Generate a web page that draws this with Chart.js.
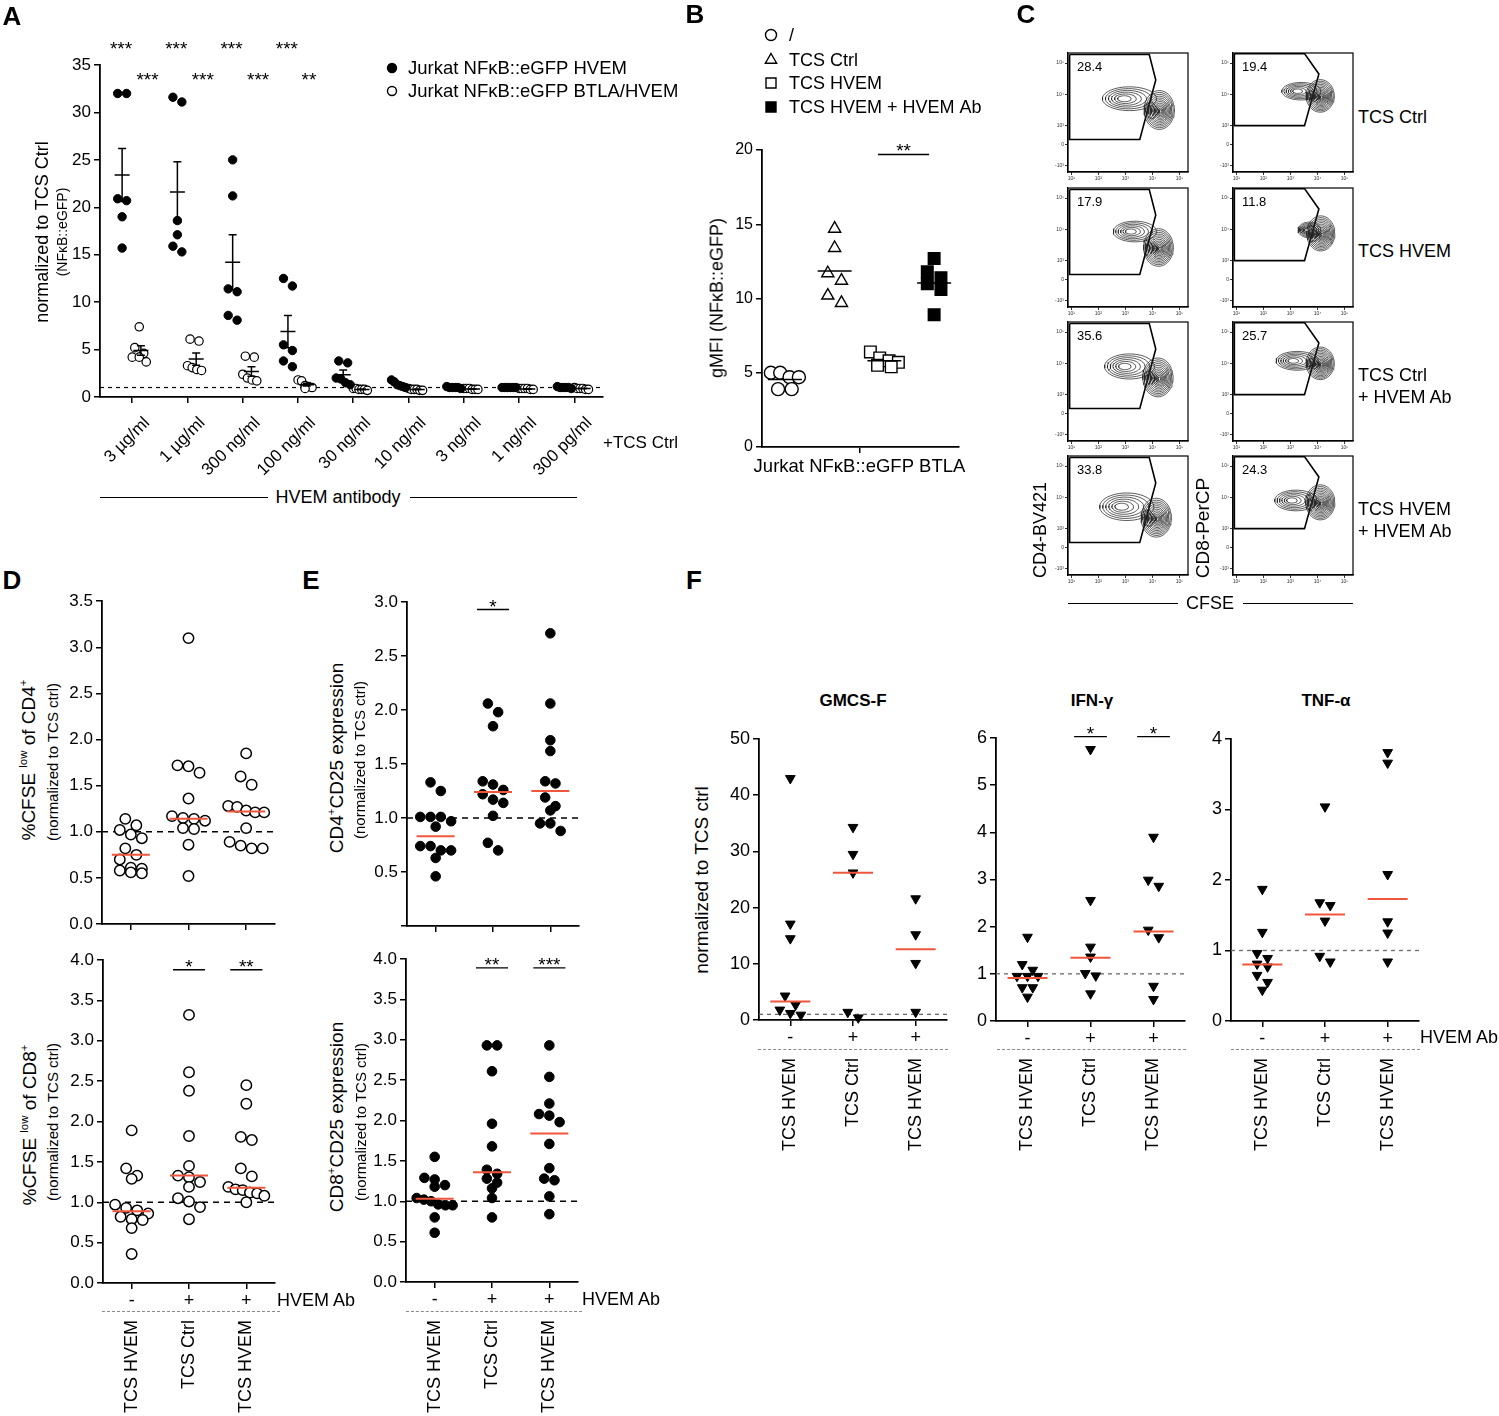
<!DOCTYPE html>
<html lang="en">
<head>
<meta charset="UTF-8">
<title>HVEM / BTLA figure</title>
<script src="https://cdn.jsdelivr.net/npm/chart.js"></script>
<style>
  body { margin: 0; background: #fff; }
  #fig { position: relative; width: 1499px; height: 1416px; overflow: hidden; background: #fff;
         font-family: "Liberation Sans", Arial, Helvetica, sans-serif; color: #000; }
  #fig canvas { position: absolute; }
  .t { position: absolute; white-space: nowrap; line-height: 1.15; }
  .t sup { font-size: 0.6em; line-height: 0; vertical-align: 0.75em; }
  .rule { position: absolute; height: 0; }
</style>
</head>
<body>
<div id="fig"></div>
<script>
// ---------- A: NFkB::eGFP reporter, HVEM antibody titration ----------
const doseLabels = ['3 µg/ml', '1 µg/ml', '300 ng/ml', '100 ng/ml', '30 ng/ml', '10 ng/ml', '3 ng/ml', '1 ng/ml', '300 pg/ml'];
const hvemReporter = [
  [32.0, 32.0, 20.9, 20.7, 19.0, 15.7],
  [31.6, 31.1, 18.6, 17.1, 15.9, 15.3],
  [25.0, 21.2, 11.4, 11.1, 8.6, 8.1],
  [12.5, 11.7, 5.5, 4.9, 3.8, 3.2],
  [3.8, 3.6, 2.0, 1.9, 1.5, 1.3],
  [1.8, 1.6, 1.3, 1.2, 1.1, 1.0],
  [1.1, 1.0, 1.0, 1.0, 1.0, 0.9],
  [1.0, 1.0, 1.0, 1.0, 1.0, 1.0],
  [1.1, 1.0, 1.0, 1.0, 1.0, 0.9]
];
const hvemMean = [23.4, 21.6, 14.2, 6.9, 2.35, 1.3, 1.0, 1.0, 1.0];
const hvemSem = [2.8, 3.2, 2.9, 1.7, 0.5, 0.12, 0.03, 0.02, 0.03];
const btlaReporter = [
  [7.4, 5.2, 4.6, 4.2, 4.2, 3.7],
  [6.1, 5.9, 3.3, 3.1, 2.9, 2.8],
  [4.3, 4.2, 2.4, 2.0, 1.8, 1.7],
  [1.8, 1.7, 1.2, 1.1, 1.0, 0.9],
  [0.9, 0.9, 0.8, 0.8, 0.8, 0.7],
  [0.9, 0.8, 0.8, 0.8, 0.7, 0.7],
  [0.9, 0.9, 0.9, 0.8, 0.8, 0.8],
  [0.9, 0.9, 0.9, 0.9, 0.8, 0.8],
  [1.0, 0.9, 0.9, 0.9, 0.8, 0.8]
];
const btlaMean = [4.9, 4.0, 2.7, 1.3, 0.8, 0.8, 0.85, 0.85, 0.9];
const btlaSem = [0.5, 0.65, 0.5, 0.15, 0.04, 0.04, 0.03, 0.03, 0.03];
const hvemStars = ['***', '***', '***', '***'];
const btlaStars = ['***', '***', '***', '**'];

// ---------- B: gMFI of Jurkat NFkB::eGFP BTLA ----------
const gmfiGroups = ['/', 'TCS Ctrl', 'TCS HVEM', 'TCS HVEM + HVEM Ab'];
const gmfiValues = [
  [5.0, 5.0, 4.7, 4.7, 3.9, 3.9],
  [14.7, 13.4, 11.7, 11.2, 10.2, 9.7],
  [6.4, 6.0, 5.8, 5.7, 5.5, 5.4],
  [12.7, 11.8, 11.4, 11.0, 10.6, 8.9]
];
const gmfiMean = [4.55, 11.85, 5.8, 11.05];

// ---------- C: CFSE flow plots ----------
const flowRows = ['TCS Ctrl', 'TCS HVEM', 'TCS Ctrl', 'TCS HVEM'];
const cd4Gated = ['28.4', '17.9', '35.6', '33.8'];
const cd8Gated = ['19.4', '11.8', '25.7', '24.3'];
// contour blobs: main peak cx, cy, rx, ry then tail cx, cy, rx, ry (decades)
const cd4Blobs = [
  [4.25, 3.5, 0.56, 0.62, 3.15, 3.86, 1.0, 0.38],
  [4.22, 3.42, 0.55, 0.6, 3.35, 3.93, 0.8, 0.33],
  [4.2, 3.55, 0.56, 0.62, 3.15, 3.9, 0.92, 0.4],
  [4.14, 3.35, 0.56, 0.62, 3.05, 3.7, 1.0, 0.44]
];
const cd8Blobs = [
  [4.1, 3.95, 0.52, 0.52, 3.4, 4.1, 0.72, 0.28],
  [4.12, 3.87, 0.52, 0.56, 3.7, 3.98, 0.42, 0.25],
  [4.1, 4.0, 0.52, 0.52, 3.25, 4.08, 0.78, 0.3],
  [4.1, 3.84, 0.54, 0.56, 3.2, 3.9, 0.78, 0.33]
];
const gateCD4 = [[0.94, 5.27], [3.88, 5.27], [4.12, 4.46], [3.53, 2.56], [0.94, 2.56], [0.94, 5.27]];
const gateCD8 = [[0.93, 5.3], [3.52, 5.3], [4.05, 4.65], [3.52, 3.0], [0.93, 3.0], [0.93, 5.3]];
const cfseTicks = [1, 2, 3, 4, 5];
const cfseTickText = ['10¹', '10²', '10³', '10⁴', '10⁵'];
const markerTicks = [1.73, 2.4, 3, 4, 5];
const markerTickText = ['-10³', '0', '10³', '10⁴', '10⁵'];

// ---------- D-F: primary T cells ----------
const conditionNames = ['TCS HVEM', 'TCS Ctrl', 'TCS HVEM'];
const hvemAbSign = ['-', '+', '+'];
const cd4Prolif = [
  [1.14, 1.07, 1.02, 0.97, 0.93, 0.82, 0.75, 0.70, 0.61, 0.60, 0.58, 0.56, 0.55],
  [3.10, 1.72, 1.71, 1.64, 1.36, 1.17, 1.15, 1.14, 1.12, 1.04, 1.03, 0.86, 0.52],
  [1.85, 1.60, 1.51, 1.28, 1.27, 1.23, 1.21, 1.21, 1.04, 0.89, 0.85, 0.82, 0.82]
];
const cd4ProlifMedian = [0.75, 1.14, 1.22];
const cd8Prolif = [
  [1.89, 1.42, 1.33, 1.29, 0.97, 0.93, 0.90, 0.86, 0.82, 0.79, 0.78, 0.68, 0.36],
  [3.32, 2.61, 2.38, 1.82, 1.45, 1.33, 1.31, 1.25, 1.19, 1.05, 1.01, 0.94, 0.79],
  [2.45, 2.22, 1.81, 1.77, 1.42, 1.32, 1.19, 1.16, 1.15, 1.12, 1.11, 1.08, 1.00]
];
const cd8ProlifMedian = [0.89, 1.33, 1.18];
const cd8ProlifSig = ['', '*', '**'];
const cd4Cd25 = [
  [1.33, 1.25, 1.01, 1.01, 1.01, 0.97, 0.92, 0.74, 0.74, 0.70, 0.70, 0.63, 0.46],
  [2.06, 1.98, 1.85, 1.34, 1.31, 1.26, 1.22, 1.17, 1.14, 1.02, 0.77, 0.70],
  [2.71, 2.06, 1.72, 1.62, 1.34, 1.32, 1.19, 1.11, 1.07, 0.95, 0.95, 0.88]
];
const cd4Cd25Median = [0.83, 1.24, 1.25];
const cd4Cd25Sig = ['', '*', ''];
const cd8Cd25 = [
  [1.55, 1.29, 1.27, 1.20, 1.18, 1.04, 1.02, 1.00, 0.96, 0.95, 0.95, 0.80, 0.61],
  [2.93, 2.93, 2.61, 1.96, 1.68, 1.39, 1.34, 1.28, 1.23, 1.16, 1.04, 0.80],
  [2.93, 2.54, 2.21, 2.08, 2.06, 1.98, 1.71, 1.41, 1.28, 1.26, 1.06, 0.84]
];
const cd8Cd25Median = [1.03, 1.36, 1.84];
const cd8Cd25Sig = ['', '**', '***'];
const gmcsf = [
  [43.0, 17.1, 14.5, 4.3, 2.7, 1.8, 1.2, 0.9],
  [34.3, 29.5, 26.2, 1.4, 0.4],
  [21.6, 15.2, 10.1, 1.4]
];
const gmcsfMedian = [3.3, 26.2, 12.6];
const ifng = [
  [1.78, 1.20, 1.08, 0.95, 0.95, 0.95, 0.71, 0.71, 0.51],
  [5.76, 2.56, 1.57, 1.36, 1.01, 0.96, 0.58],
  [3.90, 2.99, 2.86, 1.93, 1.77, 0.74, 0.46]
];
const ifngMedian = [0.91, 1.34, 1.90];
const ifngSig = ['', '*', '*'];
const tnfa = [
  [1.87, 1.26, 0.96, 0.89, 0.81, 0.77, 0.65, 0.55, 0.44],
  [3.04, 1.68, 1.64, 1.42, 0.92, 0.84],
  [3.81, 3.66, 2.08, 1.41, 1.25, 0.84]
];
const tnfaMedian = [0.80, 1.51, 1.73];

// ---------------------------------------------------------------
const FONT = '"Liberation Sans", Arial, Helvetica, sans-serif';
const RED = '#f0563c';
const fig = document.getElementById('fig');
const decoFor = new Map();

Chart.defaults.font.family = FONT;
Chart.defaults.font.size = 15;
Chart.defaults.color = '#000';
Chart.defaults.animation = false;
Chart.defaults.plugins.legend.display = false;
Chart.defaults.plugins.tooltip.enabled = false;

function drawStar(ctx, s, x, yc, size) {
  ctx.font = size + 'px ' + FONT;
  ctx.fillStyle = '#000';
  ctx.textAlign = 'center';
  ctx.textBaseline = 'alphabetic';
  ctx.fillText(s, x, yc + 0.58 * size);
}

function drawMarker(ctx, m, x, y) {
  ctx.beginPath();
  if (m.style === 'triangle') {
    ctx.moveTo(x, y - m.r);
    ctx.lineTo(x + 0.866 * m.r, y + 0.5 * m.r);
    ctx.lineTo(x - 0.866 * m.r, y + 0.5 * m.r);
    ctx.closePath();
  } else if (m.style === 'rect') {
    ctx.rect(x - m.r, y - m.r, 2 * m.r, 2 * m.r);
  } else {
    ctx.arc(x, y, m.r, 0, 2 * Math.PI);
  }
  ctx.fillStyle = m.fill;
  ctx.fill();
  ctx.lineWidth = 1.4;
  ctx.strokeStyle = '#000';
  ctx.stroke();
}

// extra marks: reference line, mean/median bars, significance, legends
const deco = {
  id: 'deco',
  beforeDatasetsDraw(chart) {
    const o = decoFor.get(chart.canvas);
    if (!o || o.refY == null) return;
    const { ctx, chartArea: a, scales: { y } } = chart;
    const py = y.getPixelForValue(o.refY);
    ctx.save();
    ctx.setLineDash(o.refDash || [5, 4]);
    ctx.lineWidth = o.refWidth || 1.5;
    ctx.strokeStyle = o.refColor || '#000';
    ctx.beginPath();
    ctx.moveTo(a.left, py);
    ctx.lineTo(a.right, py);
    ctx.stroke();
    ctx.restore();
  },
  afterDatasetsDraw(chart) {
    const o = decoFor.get(chart.canvas);
    if (!o) return;
    const { ctx, chartArea: a, scales: { x, y } } = chart;
    const ox = chart.canvas.offsetLeft, oy = chart.canvas.offsetTop;
    ctx.save();
    if (o.frame) {
      ctx.strokeStyle = '#000';
      ctx.lineWidth = 1.2;
      ctx.strokeRect(a.left, a.top, a.right - a.left, a.bottom - a.top);
    }
    (o.bars || []).forEach(b => {
      const px = x.getPixelForValue(b.x), py = y.getPixelForValue(b.y);
      ctx.strokeStyle = b.color || '#000';
      ctx.lineWidth = b.lw || 1.5;
      ctx.beginPath();
      ctx.moveTo(px - b.w / 2, py);
      ctx.lineTo(px + b.w / 2, py);
      if (b.sem) {
        const p1 = y.getPixelForValue(b.y + b.sem), p2 = y.getPixelForValue(b.y - b.sem);
        ctx.moveTo(px, p1); ctx.lineTo(px, p2);
        ctx.moveTo(px - b.cap / 2, p1); ctx.lineTo(px + b.cap / 2, p1);
        ctx.moveTo(px - b.cap / 2, p2); ctx.lineTo(px + b.cap / 2, p2);
      }
      ctx.stroke();
    });
    (o.sig || []).forEach(s => {
      const x1 = x.getPixelForValue(s.x1), x2 = x.getPixelForValue(s.x2), py = y.getPixelForValue(s.y);
      ctx.strokeStyle = '#000';
      ctx.lineWidth = 1.4;
      ctx.beginPath();
      ctx.moveTo(x1, py);
      ctx.lineTo(x2, py);
      ctx.stroke();
      drawStar(ctx, s.text, (x1 + x2) / 2, py - 8, 19);
    });
    (o.stars || []).forEach(s => drawStar(ctx, s.text, x.getPixelForValue(s.x), y.getPixelForValue(s.y), 19));
    (o.legend || []).forEach(l => {
      drawMarker(ctx, l, l.x - ox, l.y - oy);
      ctx.fillStyle = '#000';
      ctx.font = l.size + 'px ' + FONT;
      ctx.textAlign = 'left';
      ctx.textBaseline = 'middle';
      ctx.fillText(l.text, l.x - ox + l.gap, l.y - oy + 1);
    });
    ctx.restore();
  }
};
Chart.register(deco);

function canvasAt(box) {
  const cv = document.createElement('canvas');
  cv.width = box[2];
  cv.height = box[3];
  cv.style.left = box[0] + 'px';
  cv.style.top = box[1] + 'px';
  cv.style.width = box[2] + 'px';
  cv.style.height = box[3] + 'px';
  fig.appendChild(cv);
  return cv;
}

function baseOptions(box, area, scales) {
  return {
    responsive: false,
    animation: false,
    layout: { padding: { top: area[1] - box[1], right: box[0] + box[2] - area[2], left: 0, bottom: 0 } },
    scales
  };
}

function valAxis(min, max, step, fmt, width, size) {
  return {
    type: 'linear', min, max,
    border: { display: true, color: '#000', width: 1.8 },
    grid: { display: true, drawOnChartArea: false, drawTicks: true, tickLength: 6, color: '#000', lineWidth: 1.5 },
    ticks: { stepSize: step, padding: 3, font: { size }, color: '#000', callback: fmt },
    afterFit: s => { s.width = width; }
  };
}

function catAxis(min, max, labels, height, o = {}) {
  const at = o.at || labels.map((_, i) => i + 1);
  return {
    type: 'linear', position: 'bottom', min, max, weight: o.weight || 0,
    border: o.noLine ? { display: false } : { display: true, color: '#000', width: 1.8 },
    grid: o.noLine ? { display: false, drawTicks: false }
      : { display: true, drawOnChartArea: false, drawTicks: true, tickLength: 6, color: '#000', lineWidth: 1.5 },
    afterBuildTicks: s => { s.ticks = at.map(v => ({ value: v })); },
    ticks: {
      autoSkip: false, minRotation: o.rotation || 0, maxRotation: o.rotation || 0,
      padding: o.padding == null ? 2 : o.padding, labelOffset: o.offset || 0,
      font: { size: o.size || 18 }, color: '#000',
      callback: (v, i) => labels[i] == null ? '' : labels[i]
    },
    afterFit: s => { s.height = height; }
  };
}

// spread points of similar value into centred rows, GraphPad style
function swarm(values, center, pxX, pxY, diam, span) {
  const idx = values.map((v, i) => i).sort((a, b) => values[b] - values[a]);
  const rows = [];
  idx.forEach(i => {
    const row = rows[rows.length - 1];
    if (row && (values[row[0]] - values[i]) * pxY < diam * 0.9) row.push(i);
    else rows.push([i]);
  });
  const pts = [];
  rows.forEach(row => {
    const n = row.length;
    const gap = n > 1 ? Math.min(diam * 1.05, span / (n - 1)) : 0;
    row.forEach((i, j) => pts.push({ x: center + (j - (n - 1) / 2) * gap / pxX, y: values[i] }));
  });
  return pts;
}

function text(html, x, y, o = {}) {
  const d = document.createElement('div');
  d.className = 't';
  d.innerHTML = html;
  d.style.fontSize = (o.size || 17) + 'px';
  if (o.bold) d.style.fontWeight = 'bold';
  d.style.left = x + 'px';
  d.style.top = y + 'px';
  const tx = o.align === 'left' ? '0' : o.align === 'right' ? '-100%' : '-50%';
  d.style.transform = 'translate(' + tx + ', -50%)' + (o.rot ? ' rotate(' + o.rot + 'deg)' : '');
  fig.appendChild(d);
}

function rule(x1, x2, y, dashed) {
  const d = document.createElement('div');
  d.className = 'rule';
  d.style.left = x1 + 'px';
  d.style.top = y + 'px';
  d.style.width = (x2 - x1) + 'px';
  d.style.borderTop = dashed ? '1.3px dashed #8a8a8a' : '1.3px solid #000';
  fig.appendChild(d);
}

// ---------- panel A ----------
(function () {
  const box = [0, 30, 700, 450], area = [100, 65, 603, 397];
  const xmin = 0.42, xmax = 9.52;
  const pxX = (area[2] - area[0]) / (xmax - xmin), pxY = (area[3] - area[1]) / 35;
  const hv = [], bt = [], bars = [], stars = [];
  doseLabels.forEach((_, i) => {
    hv.push(...swarm(hvemReporter[i], i + 1 - 0.18, pxX, pxY, 8.5, 14));
    bt.push(...swarm(btlaReporter[i], i + 1 + 0.13, pxX, pxY, 8.5, 14));
    bars.push({ x: i + 1 - 0.18, y: hvemMean[i], sem: hvemSem[i], w: 15, cap: 8 });
    bars.push({ x: i + 1 + 0.16, y: btlaMean[i], sem: btlaSem[i], w: 15, cap: 8 });
  });
  hvemStars.forEach((s, i) => stars.push({ text: s, x: i + 1 - 0.2, y: 37.2 }));
  btlaStars.forEach((s, i) => stars.push({ text: s, x: i + 1 + (s.length > 2 ? 0.28 : 0.2), y: 33.9 }));
  const cv = canvasAt(box);
  decoFor.set(cv, {
    refY: 1, refDash: [4, 4], refWidth: 1.2, bars, stars,
    legend: [
      { style: 'circle', r: 4.5, fill: '#000', x: 392, y: 68, gap: 16, size: 18.5, text: 'Jurkat NFκB::eGFP HVEM' },
      { style: 'circle', r: 4.5, fill: '#fff', x: 392, y: 91, gap: 16, size: 18.5, text: 'Jurkat NFκB::eGFP BTLA/HVEM' }
    ]
  });
  new Chart(cv, {
    type: 'scatter',
    data: { datasets: [
      { data: hv, clip: false, pointRadius: 4.2, pointBackgroundColor: '#000', pointBorderColor: '#000', pointBorderWidth: 1 },
      { data: bt, clip: false, pointRadius: 4.2, pointBackgroundColor: '#fff', pointBorderColor: '#000', pointBorderWidth: 1.2 }
    ] },
    options: baseOptions(box, area, {
      x: catAxis(xmin, xmax, doseLabels, box[1] + box[3] - area[3], { rotation: 45, size: 17, padding: 10, offset: 15 }),
      y: valAxis(0, 35, 5, v => v, area[0] - box[0], 17)
    })
  });
})();

// ---------- panel B ----------
(function () {
  const box = [700, 20, 300, 460], area = [762, 150, 959, 447];
  const xmin = 0.54, xmax = 4.5;
  const pxX = (area[2] - area[0]) / (xmax - xmin), pxY = (area[3] - area[1]) / 20;
  const looks = [
    { pointStyle: 'circle', pointRadius: 6.5, pointBackgroundColor: '#fff' },
    { pointStyle: 'triangle', pointRadius: 7, pointBackgroundColor: '#fff' },
    { pointStyle: 'rect', pointRadius: 8.2, pointBackgroundColor: '#fff' },
    { pointStyle: 'rect', pointRadius: 8.2, pointBackgroundColor: '#000' }
  ];
  const datasets = gmfiValues.map((vals, i) => Object.assign({
    label: gmfiGroups[i], clip: false, pointBorderColor: '#000', pointBorderWidth: 1.4,
    data: swarm(vals, i + 1, pxX, pxY, 13, 28)
  }, looks[i]));
  const cv = canvasAt(box);
  decoFor.set(cv, {
    bars: gmfiMean.map((m, i) => ({ x: i + 1, y: m, w: 34, lw: 1.5 })),
    sig: [{ x1: 2.87, x2: 3.9, y: 19.7, text: '**' }],
    legend: [
      { style: 'circle', r: 5.5, fill: '#fff', x: 771, y: 35, gap: 18, size: 18, text: gmfiGroups[0] },
      { style: 'triangle', r: 6.5, fill: '#fff', x: 771, y: 60, gap: 18, size: 18, text: gmfiGroups[1] },
      { style: 'rect', r: 5, fill: '#fff', x: 771, y: 83, gap: 18, size: 18, text: gmfiGroups[2] },
      { style: 'rect', r: 5, fill: '#000', x: 771, y: 107, gap: 18, size: 18, text: gmfiGroups[3] }
    ]
  });
  new Chart(cv, {
    type: 'scatter',
    data: { datasets },
    options: baseOptions(box, area, {
      x: catAxis(xmin, xmax, ['Jurkat NFκB::eGFP BTLA'], box[1] + box[3] - area[3], { at: [2.5], size: 18.5, padding: 3 }),
      y: valAxis(0, 20, 5, v => v, area[0] - box[0], 16)
    })
  });
})();

// ---------- panel C ----------
function ring(cx, cy, rx, ry) {
  const pts = [];
  for (let k = 0; k <= 48; k++) {
    const t = k / 48 * 2 * Math.PI;
    pts.push({ x: cx + rx * Math.cos(t), y: cy + ry * Math.sin(t) });
  }
  return pts;
}

function flowPlot(L, T, pct, blob, gate) {
  const area = [L, T, L + 120, T + 119], box = [L - 18, T - 6, 141, 138];
  const [cx, cy, rx, ry, tx, ty, trx, tr] = blob;
  const rings = [];
  for (let k = 0; k < 6; k++) {
    const s = 1 - k * 0.15;
    rings.push(ring(tx - trx * 0.25 * (1 - s), ty, trx * s, tr * s));
  }
  for (let k = 0; k < 12; k++) {
    const s = Math.pow(1 - k * 0.08, 1.15);
    rings.push(ring(cx + 0.05 * k / 11, cy - 0.04 * k / 11, rx * s, ry * s));
  }
  const datasets = rings.map(r => ({ data: r, showLine: true, pointRadius: 0, borderColor: '#262626', borderWidth: 0.75 }));
  datasets.push({ data: gate.map(([x, y]) => ({ x, y })), showLine: true, pointRadius: 0, borderColor: '#000', borderWidth: 1.6 });
  const tiny = (ticks, labels) => ({
    border: { display: true, color: '#000', width: 1.2 },
    grid: { display: true, drawOnChartArea: false, drawTicks: true, tickLength: 3, color: '#000', lineWidth: 0.8 },
    afterBuildTicks: s => { s.ticks = ticks.map(v => ({ value: v })); },
    ticks: { autoSkip: false, maxRotation: 0, minRotation: 0, padding: 1, font: { size: 5 }, color: '#333', callback: (v, i) => labels[i] }
  });
  const cv = canvasAt(box);
  decoFor.set(cv, { frame: true });
  new Chart(cv, {
    type: 'scatter',
    data: { datasets },
    options: baseOptions(box, area, {
      x: Object.assign({ type: 'linear', min: 0.88, max: 5.31, afterFit: s => { s.height = 13; } }, tiny(cfseTicks, cfseTickText)),
      y: Object.assign({ type: 'linear', min: 1.52, max: 5.32, afterFit: s => { s.width = 18; } }, tiny(markerTicks, markerTickText))
    })
  });
  text(pct, L + 9, T + 14, { size: 13, align: 'left' });
}

const flowTops = [53, 188, 322, 456];
flowTops.forEach((T, r) => {
  flowPlot(1068, T, cd4Gated[r], cd4Blobs[r], gateCD4);
  flowPlot(1233, T, cd8Gated[r], cd8Blobs[r], gateCD8);
});

// ---------- panels D, E, F ----------
function dotPlot(box, area, o) {
  const xmin = 0.5, xmax = 3.5;
  const pxX = (area[2] - area[0]) / (xmax - xmin), pxY = (area[3] - area[1]) / (o.max - o.min);
  const pts = o.values.flatMap((v, i) => swarm(v, i + 1, pxX, pxY, o.diam, o.span));
  const bars = o.medians.map((m, i) => ({ x: i + 1, y: m, w: o.medW || 38, lw: 2, color: RED }));
  const sig = (o.sig || []).map((s, i) => s ? { x1: i + 1 - o.sigHalf, x2: i + 1 + o.sigHalf, y: o.sigY, text: s } : null).filter(Boolean);
  const bottom = box[1] + box[3];
  const scales = {
    y: valAxis(o.min, o.max, o.step, o.fmt, area[0] - box[0], o.tickSize || 17),
    x: catAxis(xmin, xmax, o.names ? hvemAbSign : ['', '', ''], o.names ? o.signH : bottom - area[3], { size: 18, padding: 1 })
  };
  if (o.names) {
    scales.x2 = catAxis(xmin, xmax, conditionNames, bottom - area[3] - o.signH, { noLine: true, rotation: 90, size: 18, padding: 9, weight: 1 });
  }
  const cv = canvasAt(box);
  decoFor.set(cv, { refY: 1, refDash: o.dash, refWidth: o.dashW, refColor: o.dashColor, bars, sig });
  new Chart(cv, {
    type: 'scatter',
    data: { datasets: [{
      data: pts, clip: false, pointStyle: o.style, pointRotation: o.rotation || 0, pointRadius: o.radius,
      pointBackgroundColor: o.fill, pointBorderColor: '#000', pointBorderWidth: o.border
    }] },
    options: baseOptions(box, area, scales)
  });
}

const fixed1 = v => v.toFixed(1);
const openCircle = { style: 'circle', radius: 5.2, fill: '#fff', border: 1.5, diam: 10.5, span: 36, dash: [6, 5], dashW: 1.6, dashColor: '#000' };
const dotCircle = { style: 'circle', radius: 4.8, fill: '#000', border: 1, diam: 9.8, span: 36, dash: [6, 5], dashW: 1.6, dashColor: '#000' };
const downTri = { style: 'triangle', rotation: 180, radius: 5.6, fill: '#000', border: 1, diam: 10, span: 40, dash: [4, 4], dashW: 1.3, dashColor: '#6a6a6a', tickSize: 18, medW: 40 };

dotPlot([62, 588, 230, 352], [102, 601, 275, 924], Object.assign({}, openCircle, {
  values: cd4Prolif, medians: cd4ProlifMedian, min: 0, max: 3.5, step: 0.5, fmt: fixed1
}));
dotPlot([62, 945, 230, 471], [103, 960, 275, 1283], Object.assign({}, openCircle, {
  values: cd8Prolif, medians: cd8ProlifMedian, min: 0, max: 4, step: 0.5, fmt: fixed1,
  sig: cd8ProlifSig, sigY: 3.88, sigHalf: 0.28, names: true, signH: 28
}));
dotPlot([367, 588, 230, 352], [407, 602, 579, 926], Object.assign({}, dotCircle, {
  values: cd4Cd25, medians: cd4Cd25Median, min: 0, max: 3, step: 0.5, fmt: v => (v === 0 ? '' : v.toFixed(1)),
  sig: cd4Cd25Sig, sigY: 2.93, sigHalf: 0.28
}));
dotPlot([366, 945, 230, 471], [406, 959, 578, 1282], Object.assign({}, dotCircle, {
  values: cd8Cd25, medians: cd8Cd25Median, min: 0, max: 4, step: 0.5, fmt: fixed1,
  sig: cd8Cd25Sig, sigY: 3.89, sigHalf: 0.28, names: true, signH: 29
}));
dotPlot([724, 715, 232, 450], [759, 739, 947, 1020], Object.assign({}, downTri, {
  values: gmcsf, medians: gmcsfMedian, min: 0, max: 50, step: 10, fmt: v => v, names: true, signH: 29
}));
dotPlot([966, 715, 228, 450], [996, 738, 1185, 1021], Object.assign({}, downTri, {
  values: ifng, medians: ifngMedian, min: 0, max: 6, step: 1, fmt: v => v,
  sig: ifngSig, sigY: 6.03, sigHalf: 0.26, names: true, signH: 28
}));
dotPlot([1201, 715, 226, 450], [1231, 739, 1419, 1021], Object.assign({}, downTri, {
  values: tnfa, medians: tnfaMedian, min: 0, max: 4, step: 1, fmt: v => v, names: true, signH: 28
}));

// ---------- text outside the plot areas ----------
text('A', 12, 17, { size: 26, bold: true });
text('B', 695, 15, { size: 26, bold: true });
text('C', 1026, 15, { size: 26, bold: true });
text('D', 12, 581, { size: 26, bold: true });
text('E', 311, 581, { size: 26, bold: true });
text('F', 694, 581, { size: 26, bold: true });

text('normalized to TCS Ctrl', 42, 232, { size: 18, rot: -90 });
text('(NFκB::eGFP)', 62, 232, { size: 14, rot: -90 });
text('+TCS Ctrl', 603, 443, { size: 17, align: 'left' });
text('HVEM antibody', 338, 497, { size: 18 });
rule(100, 268, 497);
rule(410, 577, 497);

text('gMFI (NFκB::eGFP)', 717, 298, { size: 18, rot: -90 });

text(flowRows[0], 1358, 117, { size: 18, align: 'left' });
text(flowRows[1], 1358, 251, { size: 18, align: 'left' });
text(flowRows[2], 1358, 375, { size: 18, align: 'left' });
text('+ HVEM Ab', 1358, 397, { size: 18, align: 'left' });
text(flowRows[3], 1358, 509, { size: 18, align: 'left' });
text('+ HVEM Ab', 1358, 531, { size: 18, align: 'left' });
text('CD4-BV421', 1040, 530, { size: 18, rot: -90 });
text('CD8-PerCP', 1203, 528, { size: 19, rot: -90 });
text('CFSE', 1210, 603, { size: 18 });
rule(1068, 1178, 603);
rule(1243, 1353, 603);

text('%CFSE <sup>low</sup> of CD4<sup>+</sup>', 29, 760, { size: 19, rot: -90 });
text('(normalized to TCS ctrl)', 53, 762, { size: 15, rot: -90 });
text('%CFSE <sup>low</sup> of CD8<sup>+</sup>', 30, 1125, { size: 19, rot: -90 });
text('(normalized to TCS ctrl)', 53, 1122, { size: 15, rot: -90 });
text('HVEM Ab', 277, 1300, { size: 18, align: 'left' });
rule(102, 280, 1311, true);

text('CD4<sup>+</sup>CD25 expression', 337, 758, { size: 19, rot: -90 });
text('(normalized to TCS ctrl)', 360, 760, { size: 15, rot: -90 });
text('CD8<sup>+</sup>CD25 expression', 337, 1117, { size: 19, rot: -90 });
text('(normalized to TCS ctrl)', 361, 1122, { size: 15, rot: -90 });
text('HVEM Ab', 582, 1299, { size: 18, align: 'left' });
rule(406, 582, 1311, true);

text('GMCS-F', 853, 701, { size: 17, bold: true });
text('IFN-γ', 1092, 701, { size: 17, bold: true });
text('TNF-α', 1326, 701, { size: 17, bold: true });
text('normalized to TCS ctrl', 702, 880, { size: 19, rot: -90 });
text('HVEM Ab', 1420, 1037, { size: 18, align: 'left' });
rule(758, 948, 1049, true);
rule(997, 1186, 1049, true);
rule(1231, 1420, 1049, true);
</script>
</body>
</html>
